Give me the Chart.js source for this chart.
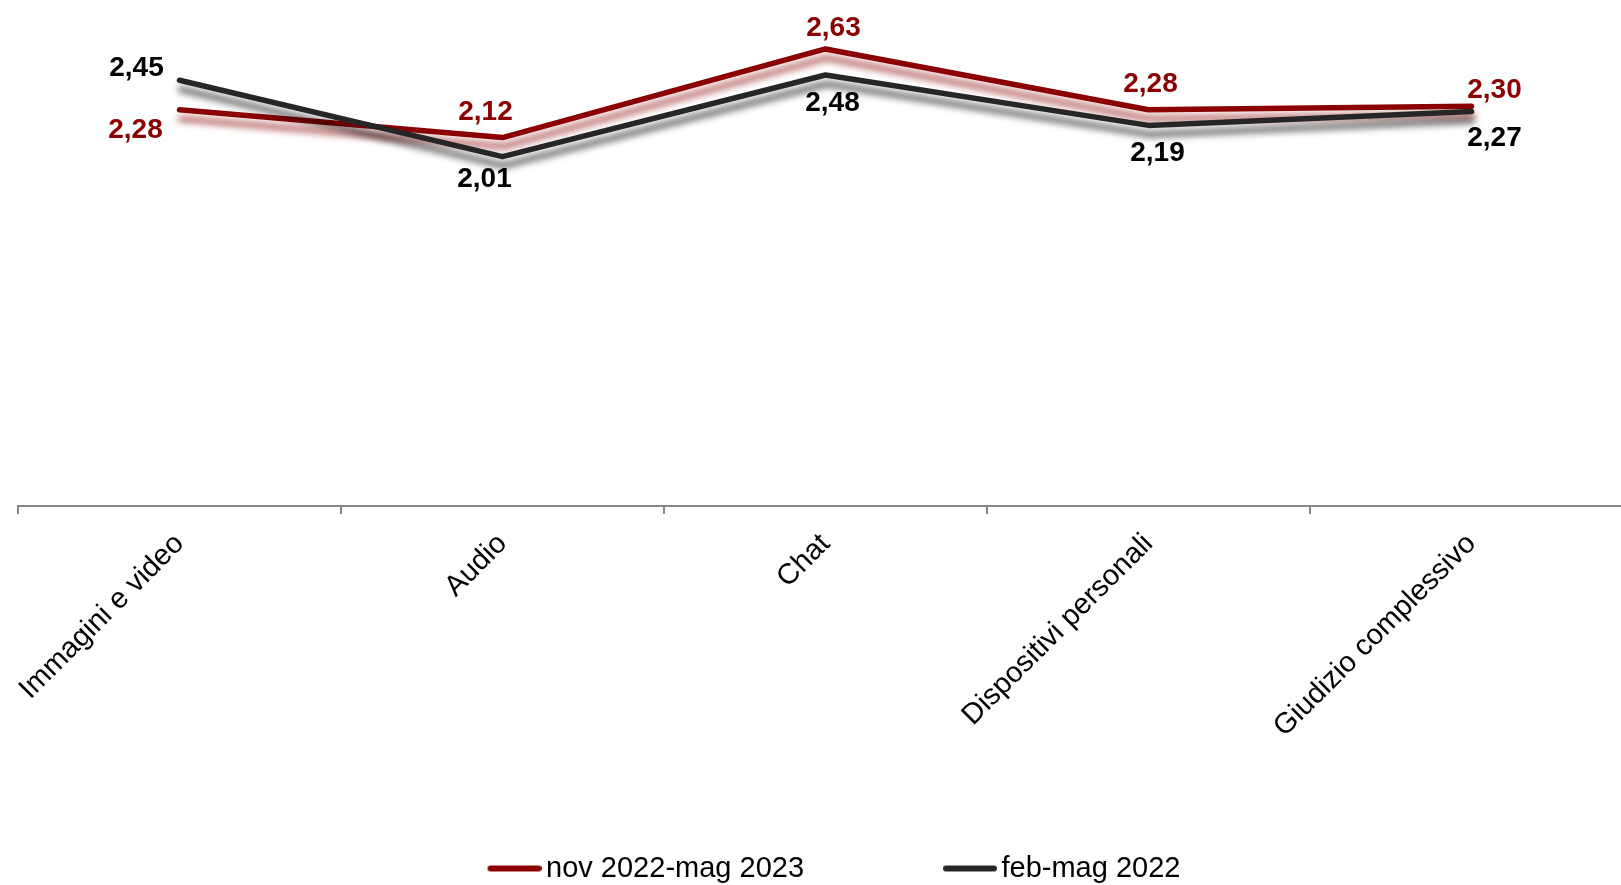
<!DOCTYPE html>
<html>
<head>
<meta charset="utf-8">
<script src="https://cdn.jsdelivr.net/npm/chart.js@4"></script>
<style>
  html, body { margin: 0; padding: 0; background: #fff; overflow: hidden; }
  #wrap { position: relative; width: 1650px; height: 893px; }
</style>
</head>
<body>
<div id="wrap"><canvas id="chart"></canvas></div>
<script>
const categories = ['Immagini e video', 'Audio', 'Chat', 'Dispositivi personali', 'Giudizio complessivo'];
const novMag2023 = [2.28, 2.12, 2.63, 2.28, 2.30];
const febMag2022 = [2.45, 2.01, 2.48, 2.19, 2.27];
const seriesNames = ['nov 2022-mag 2023', 'feb-mag 2022'];

// label offsets from each point (px), red and black
const redLabelOffsets = [[-44, 18], [-17, -28], [8, -23], [2, -28], [23, -18]];
const blackLabelOffsets = [[-43, -14], [-18, 20], [7, 26], [9, 26], [23, 25]];

const RED = '#8B0000';
const DARK = '#262626';
const FONT = "'Liberation Sans', Arial, sans-serif";

// legend sample: short thick line, drawn a bit left of the box so text sits close
function legendLine(color) {
  const c = document.createElement('canvas');
  c.width = 64;
  c.height = 10;
  const g = c.getContext('2d');
  g.strokeStyle = color;
  g.lineWidth = 6;
  g.lineCap = 'round';
  g.beginPath();
  g.moveTo(13, 5);
  g.lineTo(61, 5);
  g.stroke();
  return c;
}

const shadowPlugin = {
  id: 'lineShadow',
  beforeDatasetDraw(chart, args) {
    const ctx = chart.ctx;
    ctx.save();
    ctx.shadowColor = args.index === 0 ? 'rgba(140,0,0,0.65)' : 'rgba(0,0,0,0.65)';
    ctx.shadowBlur = 7;
    ctx.shadowOffsetX = 1;
    ctx.shadowOffsetY = 9;
  },
  afterDatasetDraw(chart) {
    chart.ctx.restore();
  }
};

const valueLabels = {
  id: 'valueLabels',
  afterDatasetsDraw(chart) {
    const ctx = chart.ctx;
    ctx.save();
    ctx.font = 'bold 28px ' + FONT;
    ctx.textAlign = 'center';
    ctx.textBaseline = 'alphabetic';
    chart.data.datasets.forEach((ds, i) => {
      const meta = chart.getDatasetMeta(i);
      const offs = i === 0 ? redLabelOffsets : blackLabelOffsets;
      ctx.fillStyle = i === 0 ? RED : '#000';
      meta.data.forEach((pt, j) => {
        const txt = ds.data[j].toFixed(2).replace('.', ',');
        ctx.fillText(txt, pt.x + offs[j][0], pt.y + offs[j][1] + 10);
      });
    });
    ctx.restore();
  }
};

const gap = '\u00a0'.repeat(17);

new Chart(document.getElementById('chart'), {
  type: 'line',
  data: {
    labels: categories,
    datasets: [
      {
        label: seriesNames[0],
        data: novMag2023,
        borderColor: RED,
        backgroundColor: RED,
        borderWidth: 5.5,
        borderCapStyle: 'round',
        borderJoinStyle: 'round',
        pointRadius: 0,
        tension: 0,
        order: 2
      },
      {
        label: seriesNames[1],
        data: febMag2022,
        borderColor: DARK,
        backgroundColor: DARK,
        borderWidth: 5.5,
        borderCapStyle: 'round',
        borderJoinStyle: 'round',
        pointRadius: 0,
        tension: 0,
        order: 1
      }
    ]
  },
  options: {
    responsive: true,
    maintainAspectRatio: false,
    animation: false,
    events: [],
    layout: { padding: { left: 18, right: 0, top: 2, bottom: 0 } },
    scales: {
      x: {
        offset: true,
        grid: {
          display: true,
          offset: true,
          drawOnChartArea: false,
          drawTicks: true,
          tickLength: 8,
          color: '#868686',
          lineWidth: 2
        },
        border: { display: true, color: '#868686', width: 2 },
        ticks: {
          autoSkip: false,
          minRotation: 45,
          maxRotation: 45,
          padding: 13,
          color: '#000',
          font: { family: FONT, size: 29 }
        },
        afterFit: (scale) => { scale.height = 346; }
      },
      y: {
        display: false,
        min: 0,
        max: 2.9
      },
      yr: {
        type: 'linear',
        position: 'right',
        display: true,
        grid: { display: false },
        border: { display: false },
        ticks: { display: false },
        afterFit: (scale) => { scale.width = 17; }
      }
    },
    plugins: {
      tooltip: { enabled: false },
      legend: {
        display: true,
        position: 'bottom',
        labels: {
          usePointStyle: true,
          pointStyleWidth: 44,
          padding: 2,
          color: '#000',
          font: { family: FONT, size: 29 },
          sort: (a, b) => a.datasetIndex - b.datasetIndex,
          generateLabels: (chart) => {
            const items = Chart.defaults.plugins.legend.labels.generateLabels(chart);
            items.forEach((it) => {
              it.pointStyle = legendLine(it.datasetIndex === 0 ? RED : DARK);
              if (it.datasetIndex === 0) it.text = it.text + gap;
            });
            return items;
          }
        }
      }
    }
  },
  plugins: [shadowPlugin, valueLabels]
});
</script>
</body>
</html>
